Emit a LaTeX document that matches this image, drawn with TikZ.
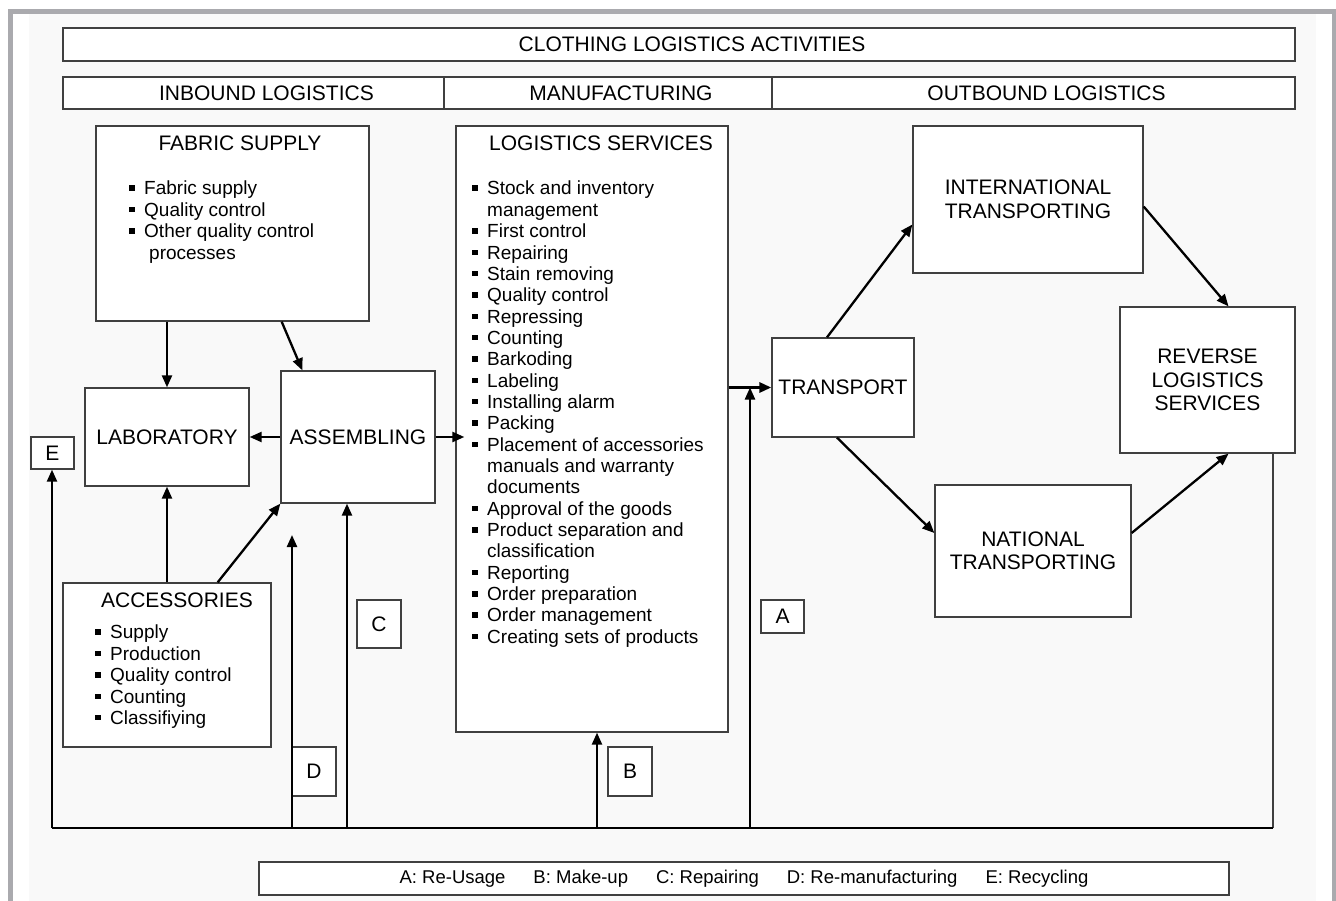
\documentclass[tikz,border=0pt]{standalone}
\usepackage{fontspec}
\setmainfont{Liberation Sans}
\usetikzlibrary{arrows.meta,calc}
\definecolor{framegray}{RGB}{170,170,174}
\definecolor{pagegray}{RGB}{249,249,249}
\definecolor{linegray}{RGB}{64,64,64}
\newcommand{\sqbullet}{\makebox[15pt][l]{\rule[4pt]{5.5pt}{5.5pt}}}
\newcommand{\listindent}{\hspace*{15pt}}

\begin{document}
\begin{tikzpicture}[x=1pt, y=-1pt, >={Triangle[length=12pt,width=10pt]},
  font=\fontsize{21}{23.5}\selectfont,
  box/.style={draw=linegray, line width=1.3pt, fill=white, inner sep=0pt, align=center},
  hdr/.style={box, minimum height=32pt, execute at begin node={\hspace*{26pt}}},
  tag/.style={box, minimum width=43pt, minimum height=33pt},
  itemlist/.style={anchor=north west, inner sep=0pt, align=left, font=\fontsize{19}{21.35}\selectfont},
  arr/.style={->, line width=2.3pt},
  returnline/.style={line width=1.6pt}]

  % page and frame
  \fill[white] (0,0) rectangle (1336,901);
  \fill[pagegray] (29,14) rectangle (1316,901);
  \fill[framegray] (8,9) rectangle (1336,14);
  \fill[framegray] (8,9) rectangle (13,901);
  \fill[framegray] (1332,9) rectangle (1336,901);
  \useasboundingbox (0,0) rectangle (1336,901);

  % headings
  \node[hdr, minimum width=1232pt, minimum height=33pt] (title) at (679,44.5) {CLOTHING LOGISTICS ACTIVITIES};
  \node[hdr, minimum width=381pt] (inb) at (253.5,93) {INBOUND LOGISTICS};
  \node[hdr, minimum width=328pt] (manu) at (608,93) {MANUFACTURING};
  \node[hdr, minimum width=523pt] (outb) at (1033.5,93) {OUTBOUND LOGISTICS};

  % inbound logistics
  \node[box, minimum width=273pt, minimum height=195pt] (fab) at (232.5,223.5) {};
  \node (fabt) at (240,143) {FABRIC SUPPLY};
  \node[itemlist] (fabl) at (129,181) {\sqbullet Fabric supply\\ \sqbullet Quality control\\
    \sqbullet Other quality control\\ \listindent\hspace*{5pt}processes};
  \node[box, minimum width=164pt, minimum height=98pt] (lab) at (167,437) {LABORATORY};
  \node[box, minimum width=154pt, minimum height=132pt] (asm) at (358,437) {ASSEMBLING};
  \node[box, minimum width=208pt, minimum height=164pt] (acc) at (167,665) {};
  \node (acct) at (177,600) {ACCESSORIES};
  \node[itemlist] (accl) at (95,625) {\sqbullet Supply\\ \sqbullet Production\\ \sqbullet Quality control\\
    \sqbullet Counting\\ \sqbullet Classifiying};

  % manufacturing
  \node[box, minimum width=272pt, minimum height=606pt] (ls) at (592,429) {};
  \node (lst) at (601,143) {LOGISTICS SERVICES};
  \node[itemlist] (lsl) at (472,181) {\sqbullet Stock and inventory\\ \listindent management\\
    \sqbullet First control\\ \sqbullet Repairing\\ \sqbullet Stain removing\\ \sqbullet Quality control\\
    \sqbullet Repressing\\ \sqbullet Counting\\ \sqbullet Barkoding\\ \sqbullet Labeling\\
    \sqbullet Installing alarm\\ \sqbullet Packing\\ \sqbullet Placement of accessories\\
    \listindent manuals and warranty\\ \listindent documents\\ \sqbullet Approval of the goods\\
    \sqbullet Product separation and\\ \listindent classification\\ \sqbullet Reporting\\
    \sqbullet Order preparation\\ \sqbullet Order management\\ \sqbullet Creating sets of products};

  % outbound logistics
  \node[box, minimum width=142pt, minimum height=99pt] (tr) at (843,387.5) {TRANSPORT};
  \node[box, minimum width=230pt, minimum height=147pt] (intl) at (1028,199.5) {INTERNATIONAL\\TRANSPORTING};
  \node[box, minimum width=175pt, minimum height=146pt] (rev) at (1207.5,380) {REVERSE\\LOGISTICS\\SERVICES};
  \node[box, minimum width=196pt, minimum height=132pt] (nat) at (1033,551) {NATIONAL\\TRANSPORTING};

  % return flow tags
  \node[tag, minimum height=32pt] (e) at (52.5,453) {E};
  \node[tag, minimum width=44pt, minimum height=48pt] (c) at (379,624) {C};
  \node[tag, minimum width=44pt, minimum height=49pt] (d) at (314,771.5) {D};
  \node[tag, minimum width=44pt, minimum height=49pt] (b) at (630,771.5) {B};
  \node[tag] (a) at (782.5,616.5) {A};

  % legend
  \node[box, minimum width=970pt, minimum height=33pt, font=\fontsize{18.5}{20}\selectfont] (legend) at (744,878.5)
    {A: Re-Usage\hspace{28pt}B: Make-up\hspace{28pt}C: Repairing\hspace{28pt}D: Re-manufacturing\hspace{28pt}E: Recycling};

  % return line
  \coordinate (loopL) at (52,828);
  \coordinate (loopR) at (1273,828);
  \coordinate (dbase) at (292,828);
  \coordinate (dtip) at (292,535);
  \coordinate (cbase) at (347,828);
  \coordinate (bbase) at (597,828);
  \coordinate (abase) at (750,828);

  % forward flows
  \draw[arr] (fab.south -| lab.north) -- (lab.north);
  \draw[arr] ([xshift=-88pt]fab.south east) -- ([xshift=22pt]asm.north west);
  \draw[arr] (acc.north) -- (lab.south);
  \draw[arr] ([xshift=-54pt]acc.north east) -- (asm.south west);
  \draw[arr] (asm.west) -- (lab.east);
  \draw[arr] (asm.east) -- ([xshift=9pt]asm.east -| ls.west);
  \draw[arr, line width=3pt] (ls.east |- tr.west) -- (tr.west);
  \draw[arr] ([xshift=-16pt]tr.north) -- ([yshift=-25pt]intl.west);
  \draw[arr] ([yshift=-7pt]intl.east) -- ([xshift=21pt]rev.north);
  \draw[arr] ([xshift=-6pt]tr.south) -- ([yshift=18pt]nat.west);
  \draw[arr] ([yshift=18pt]nat.east) -- ([xshift=21pt]rev.south);

  % reverse flows
  \draw[line width=1.2pt, linegray] (rev.south -| loopR) -- (loopR);
  \draw[returnline] (loopR) -- (loopL);
  \draw[arr] (loopL) -- (loopL |- e.south);
  \draw[arr] (dbase) -- (dtip);
  \draw[arr] (cbase) -- (cbase |- asm.south);
  \draw[arr] (bbase) -- (bbase |- ls.south);
  \draw[arr] (abase) -- (abase |- tr.west);
\end{tikzpicture}
\end{document}
